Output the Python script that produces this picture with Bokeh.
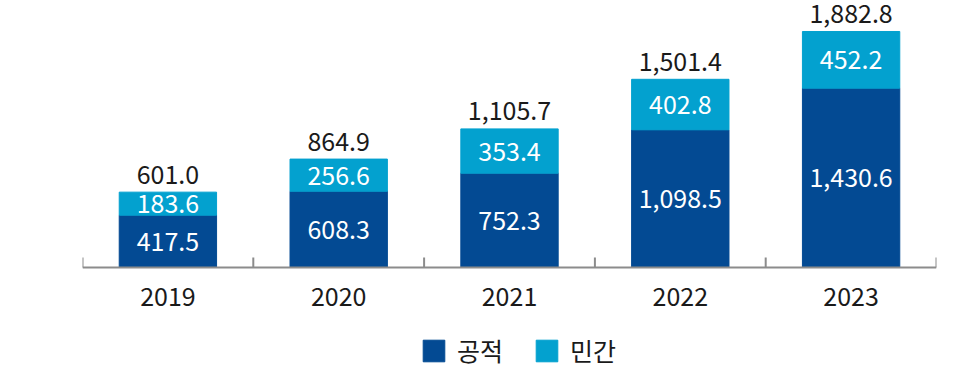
import numpy as np
from bokeh.plotting import figure
from bokeh.models import ColumnDataSource, Range1d, Legend, LegendItem, Span
from bokeh.core.properties import value
from bokeh.embed import file_html
from bokeh.resources import INLINE

years = ["2019", "2020", "2021", "2022", "2023"]
public = [417.5, 608.3, 752.3, 1098.5, 1430.6]
private = [183.6, 256.6, 353.4, 402.8, 452.2]
totals = [601.0, 864.9, 1105.7, 1501.4, 1882.8]
series_names = ["공적", "민간"]
colors = ["#034A93", "#03A1CF"]

FONT = "Noto Sans CJK KR"
FS = "25px"
AXIS_COLOR = "#8c8c8c"

n = len(years)
x = np.arange(1, n + 1)
pub = np.array(public)
pri = np.array(private)

FRAME_H = 380
Y_TOP, Y_BOTTOM = 2130, -901.5
px_per_unit = FRAME_H / (Y_TOP - Y_BOTTOM)

src = ColumnDataSource(dict(
    x=x, public=pub, private=pri, top=pub + pri,
    pub_mid=pub / 2, pri_mid=pub + pri / 2, zero=np.zeros(n),
    years=years,
    pub_lab=[f"{v:,.1f}" for v in public],
    pri_lab=[f"{v:,.1f}" for v in private],
    tot_lab=[f"{v:,.1f}" for v in totals],
))

boundaries = np.arange(0.5, n + 1, 1.0)
tick_src = ColumnDataSource(dict(x=boundaries, y0=np.zeros(len(boundaries)),
                                 y1=np.full(len(boundaries), 10 / px_per_unit)))

p = figure(frame_width=854, frame_height=FRAME_H,
           output_backend="svg", toolbar_location=None,
           x_range=Range1d(0.5, n + 0.5), y_range=Range1d(Y_BOTTOM, Y_TOP),
           x_axis_type=None, y_axis_type=None,
           min_border_left=82, min_border_right=22, min_border_top=0, min_border_bottom=0)
p.outline_line_color = None
p.grid.visible = False
p.background_fill_color = "white"

r_pub = p.vbar(x="x", bottom=0, top="public", width=0.57, color=colors[0], source=src)
r_pri = p.vbar(x="x", bottom="public", top="top", width=0.57, color=colors[1], source=src)

# baseline and category boundary ticks
p.add_layout(Span(location=0, dimension="width", line_color=AXIS_COLOR, line_width=2))
p.segment(x0="x", y0="y0", x1="x", y1="y1", source=tick_src, line_color=AXIS_COLOR, line_width=2)

p.text(x="x", y="pub_mid", text="pub_lab", source=src, text_align="center", text_baseline="middle",
       text_color="white", text_font=value(FONT), text_font_size=FS)
p.text(x="x", y="pri_mid", text="pri_lab", source=src, text_align="center", text_baseline="middle",
       text_color="white", text_font=value(FONT), text_font_size=FS)
p.text(x="x", y="top", text="tot_lab", source=src, text_align="center", text_baseline="alphabetic",
       y_offset=-18, text_color="#1a1a1a", text_font=value(FONT), text_font_size=FS)
p.text(x="x", y="zero", text="years", source=src, text_align="center", text_baseline="middle",
       y_offset=29, text_color="#1a1a1a", text_font=value(FONT), text_font_size=FS)

legend = Legend(items=[LegendItem(label=series_names[0], renderers=[r_pub]),
                       LegendItem(label=series_names[1], renderers=[r_pri])],
                orientation="horizontal", location=(338, 12),
                glyph_width=27, glyph_height=27, label_standoff=10, spacing=30,
                label_text_font=FONT, label_text_font_size=FS, label_text_color="#1a1a1a",
                border_line_color=None, background_fill_alpha=0, padding=0, margin=0)
p.add_layout(legend, "center")

open("out.html", "w").write(file_html(p, INLINE))
